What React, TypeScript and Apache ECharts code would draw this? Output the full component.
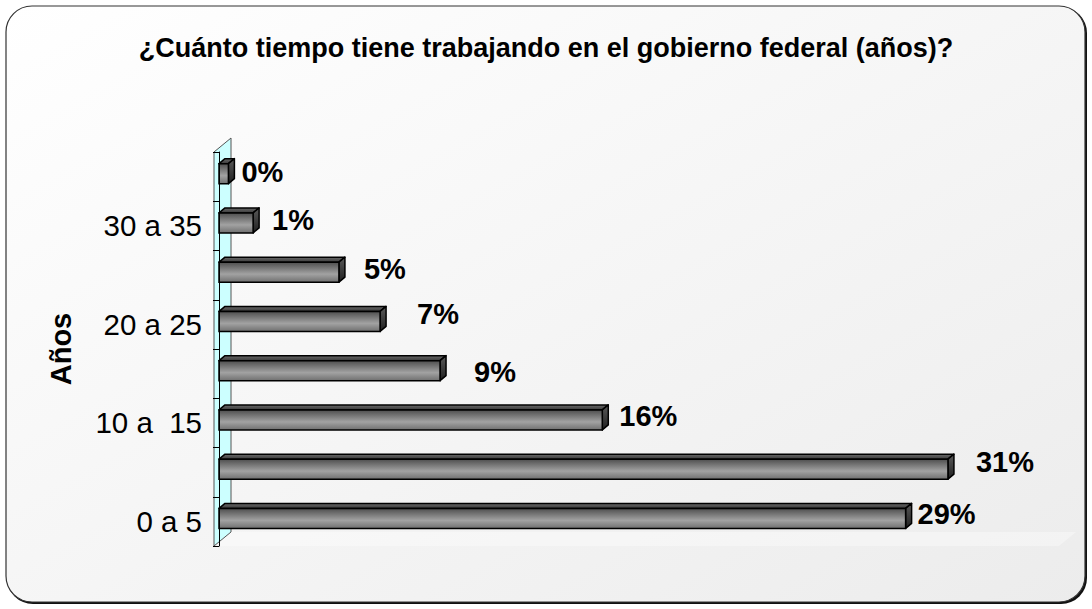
import React, { useEffect, useRef } from "react";
import * as echarts from "echarts";

// ---- data ----
const categories = ["0 a 5", "5 a 10", "10 a  15", "15 a 20", "20 a 25", "25 a 30", "30 a 35", "35 a 40"];
const percentages = [29.2, 31.0, 16.3, 9.4, 6.85, 5.1, 1.45, 0.4];
const titleText = "¿Cuánto tiempo tiene trabajando en el gobierno federal (años)?";
const axisName = "Años";

// ---- label styling offsets (px, from bar end / band centre) ----
const labelDx = [12, 28, 17, 34, 37, 25, 19, 13];
const labelDy = [-7, -10, -7, -2, -10, -6, -6, -5];

const FONT = "'Liberation Sans', Arial, Helvetica, sans-serif";

export default function App() {
  const ref = useRef<HTMLDivElement>(null);

  useEffect(() => {
    if (!ref.current) return;
    const chart = echarts.init(ref.current, undefined, { renderer: "svg" });

    const gridLeft = 219;
    const gridTop = 152;
    const gridBottom = 63;
    const H = 609;
    const axisX = 214;
    const wallDx = 17;
    const wallDy = -14;

    const frontGrad = new echarts.graphic.LinearGradient(0, 0, 0, 1, [
      { offset: 0, color: "#4e4e4e" },
      { offset: 0.6, color: "#a2a2a2" },
      { offset: 1, color: "#707070" },
    ]);
    const topGrad = new echarts.graphic.LinearGradient(0, 0, 0, 1, [
      { offset: 0, color: "#6a6a6a" },
      { offset: 1, color: "#3a3a3a" },
    ]);
    const sideGrad = new echarts.graphic.LinearGradient(0, 0, 0, 1, [
      { offset: 0, color: "#5a5a5a" },
      { offset: 1, color: "#202020" },
    ]);

    const wallBottomY = H - gridBottom;

    chart.setOption({
      animation: false,
      title: {
        text: titleText,
        left: "center",
        top: 29,
        textStyle: { fontFamily: FONT, fontSize: 27, fontWeight: "bold", color: "#000" },
      },
      graphic: [
        {
          type: "rect",
          z: -11,
          shape: { x: 7, y: 7, width: 1080, height: 597, r: 26 },
          style: { fill: "#111", stroke: "none" },
        },
        {
          type: "rect",
          z: -10,
          shape: { x: 6, y: 6, width: 1079, height: 596, r: 26 },
          style: {
            fill: new echarts.graphic.LinearGradient(0, 0, 1, 1, [
              { offset: 0, color: "#ffffff" },
              { offset: 1, color: "#ececec" },
            ]),
            stroke: "#333",
            lineWidth: 1.2,
          },
        },
        {
          type: "polygon",
          z: -5,
          shape: {
            points: [
              [axisX, wallBottomY],
              [axisX + wallDx, wallBottomY + wallDy],
              [1076, wallBottomY + wallDy],
              [1076 - wallDx, wallBottomY],
            ],
          },
          style: { fill: "rgba(255,255,255,0.35)", stroke: "none" },
        },
        {
          type: "polygon",
          z: -4,
          shape: {
            points: [
              [axisX, gridTop],
              [axisX + wallDx, gridTop + wallDy],
              [axisX + wallDx, wallBottomY + wallDy],
              [axisX, wallBottomY],
            ],
          },
          style: { fill: "#ccffff", stroke: "#555", lineWidth: 1 },
        },
      ],
      grid: { left: gridLeft, right: 50, top: gridTop, bottom: gridBottom, containLabel: false },
      xAxis: {
        type: "value",
        min: 0,
        max: 35,
        show: false,
      },
      yAxis: {
        type: "category",
        data: categories,
        offset: 5,
        z: 5,
        name: axisName,
        nameLocation: "middle",
        nameRotate: 90,
        nameGap: 139,
        nameTextStyle: { fontFamily: FONT, fontSize: 29, fontWeight: "bold", color: "#000" },
        axisLine: { show: true, lineStyle: { color: "#000", width: 1 } },
        axisTick: { show: true, length: 6, lineStyle: { color: "#000" }, alignWithLabel: false, interval: 0 },
        axisLabel: {
          interval: 1,
          margin: 12,
          fontFamily: FONT,
          fontSize: 29.5,
          color: "#000",
        },
        splitLine: { show: false },
      },
      series: [
        {
          type: "custom",
          z: 3,
          encode: { x: 0, y: 1 },
          data: percentages.map((v, i) => [v, i]),
          renderItem: (params: any, api: any) => {
            const v = api.value(0);
            const idx = api.value(1);
            const s = api.coord([0, idx]);
            const e = api.coord([v, idx]);
            const yc = s[1];
            const x0 = s[0];
            const x1 = e[0];
            const top = yc - 13;
            const bot = yc + 7;
            const dx = 6;
            const dy = -5;
            const i = params.dataIndex;
            return {
              type: "group",
              children: [
                {
                  type: "polygon",
                  shape: { points: [[x0, top], [x0 + dx, top + dy], [x1 + dx, top + dy], [x1, top]] },
                  style: { fill: topGrad, stroke: "#000", lineWidth: 1.5, lineJoin: "round" },
                },
                {
                  type: "polygon",
                  shape: { points: [[x1, top], [x1 + dx, top + dy], [x1 + dx, bot + dy], [x1, bot]] },
                  style: { fill: sideGrad, stroke: "#000", lineWidth: 1.5, lineJoin: "round" },
                },
                {
                  type: "rect",
                  shape: { x: x0, y: top, width: Math.max(x1 - x0, 1), height: bot - top },
                  style: { fill: frontGrad, stroke: "#000", lineWidth: 1.5 },
                },
                {
                  type: "text",
                  x: x1 + labelDx[i],
                  y: yc + labelDy[i],
                  style: {
                    text: `${Math.round(v)}%`,
                    fontFamily: FONT,
                    fontSize: 29,
                    fontWeight: "bold",
                    fill: "#000",
                    align: "left",
                    verticalAlign: "middle",
                  },
                },
              ],
            };
          },
        },
      ],
    });

    return () => chart.dispose();
  }, []);

  return (
    <div
      ref={ref}
      style={{ position: "fixed", left: 0, top: 0, width: 1092, height: 609, background: "#fff" }}
    />
  );
}
